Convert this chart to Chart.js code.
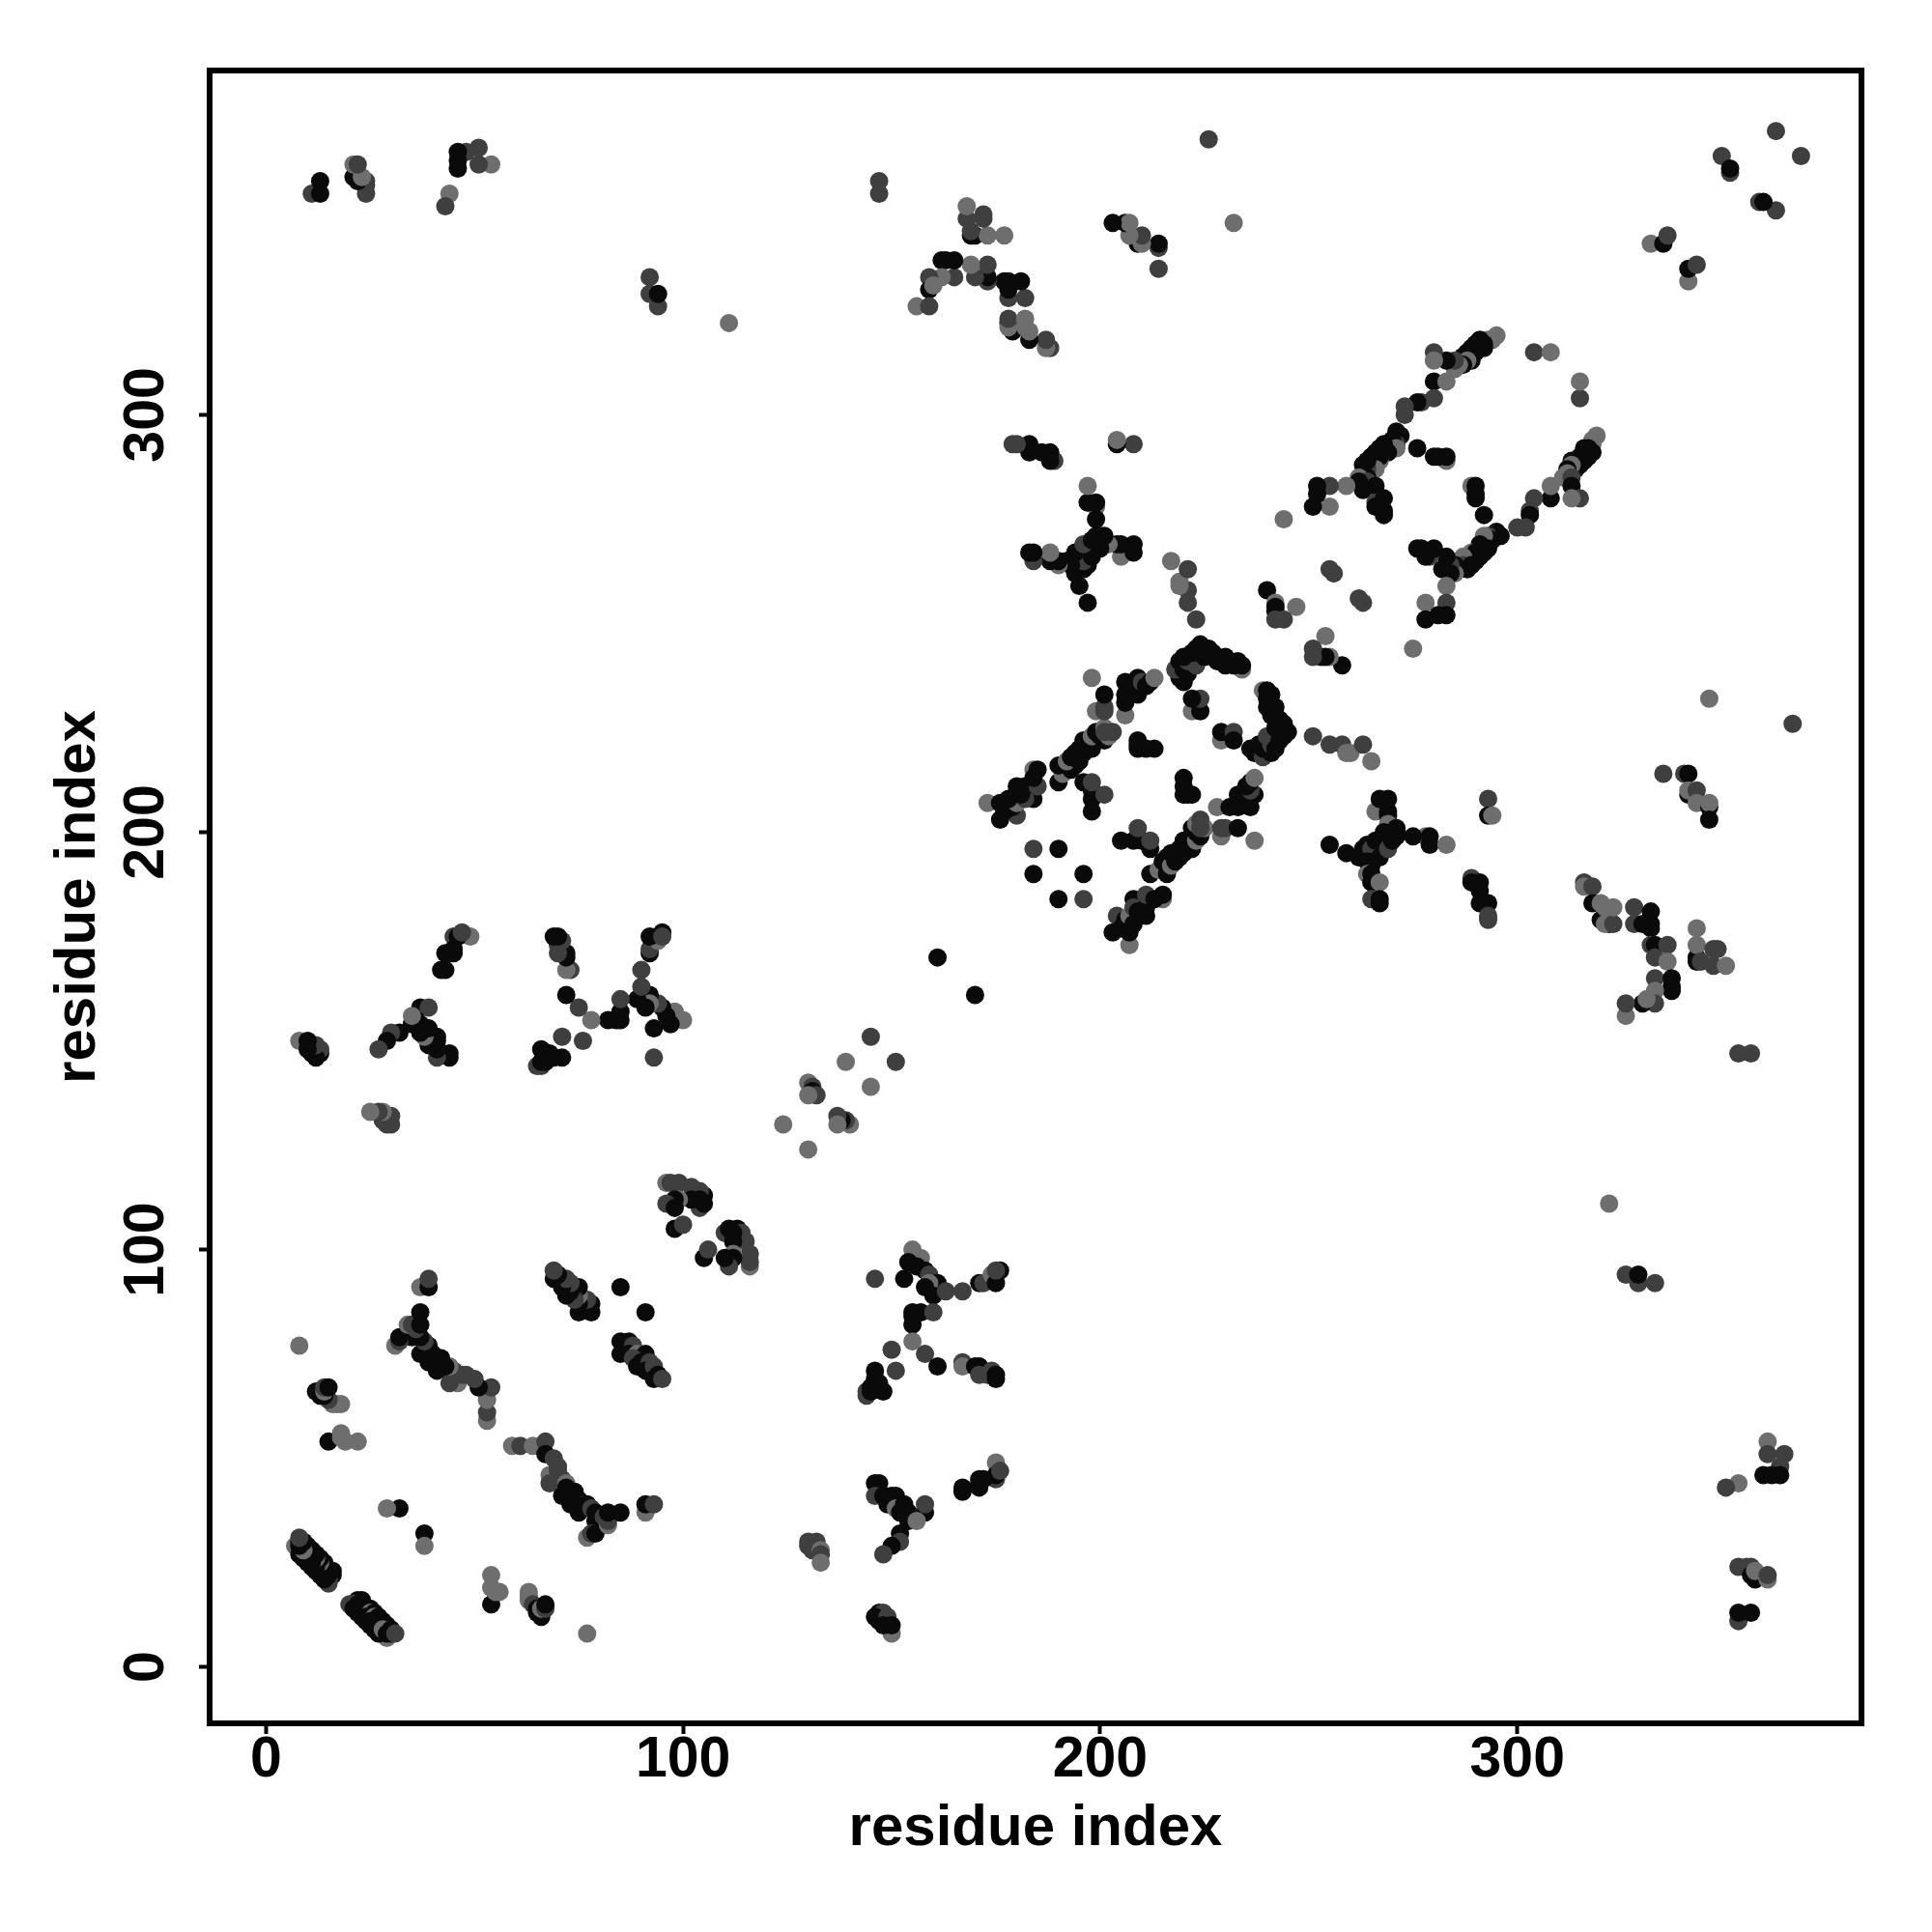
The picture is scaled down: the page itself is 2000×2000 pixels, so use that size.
<!DOCTYPE html>
<html><head><meta charset="utf-8">
<script src="https://cdn.jsdelivr.net/npm/chart.js@4"></script>
<style>html,body{margin:0;padding:0;background:#fff}canvas{display:block}</style>
</head><body><canvas id="c" width="2000" height="2000"></canvas>
<script>
// Contacts as [residue i, residue j, shade level]; the map is symmetric.
const shadeColours = ['#0a0a0a', '#3f3f3f', '#6e6e6e'];
const tickValues = [0, 100, 200, 300];
const axisTitle = 'residue index';
const nTerminalStrips = [[29,7,2],[22,13,0],[23,12,0],[24,11,0],[25,10,0],[26,9,0],[27,8,0],[22,16,0],[23,16,0],[21,15,2],[20,15,1],[22,15,0],[21,14,0],[24,14,0],[25,14,0],[23,13,0],[25,13,2],[26,13,0],[24,12,0],[26,12,2],[27,12,0],[25,11,0],[28,11,0],[28,10,0],[27,10,0],[26,10,0],[29,10,0],[27,9,0],[28,9,2],[30,9,0],[29,8,0],[30,8,0],[31,8,1],[77,8,2],[54,22,2],[54,15,0],[54,19,2],[55,18,2],[56,18,2],[38,32,0],[38,29,2],[63,18,2],[63,17,2],[63,16,2],[64,15,1],[65,14,0],[65,13,0],[66,12,0],[66,14,2],[67,14,1],[67,15,0]];
const clusterA = [[59,53,2],[61,53,1],[64,53,2],[67,54,1],[67,51,0],[69,50,1],[68,46,2],[68,44,1],[70,48,1],[70,47,1],[71,45,1],[72,44,2],[71,41,0],[72,43,0],[73,42,0],[74,42,0],[74,41,0],[73,39,0],[75,40,0],[77,39,0],[75,37,0],[76,38,0],[78,38,1],[77,31,2],[79,37,0],[79,35,0],[80,34,0],[78,32,1],[79,32,0],[81,36,1],[82,34,2],[82,35,1],[82,37,0],[85,37,0],[91,37,2],[91,39,0],[93,39,1]];
const clusterB = [[85,78,0],[87,78,0],[86,77,0],[85,75,0],[88,77,1],[87,75,0],[89,75,2],[91,75,0],[88,74,1],[90,73,0],[89,72,0],[92,73,1],[92,71,2],[91,71,0],[93,72,1],[94,70,0],[93,69,0],[95,69,1],[91,85,0]];
const clusterDiagonalA = [[116,96,2],[116,97,1],[116,99,1],[110,104,1],[113,105,0],[114,104,1],[115,102,1],[111,105,0],[112,104,0],[112,102,0],[112,99,2],[112,98,0],[111,96,1],[110,98,0],[105,98,0],[106,100,1]];
const cluster150 = [[155,100,2],[157,98,2],[154,97,0],[146,93,1],[153,93,0],[156,96,0],[158,95,0],[159,94,1],[161,92,0],[159,92,2],[158,91,0],[160,89,0],[163,90,1],[167,90,1],[171,92,0],[172,92,1],[174,93,1],[174,94,2],[175,92,0],[176,95,0],[175,95,1],[155,85,0],[155,84,0],[155,82,0],[157,85,0],[160,85,1],[155,78,2],[158,75,1],[161,72,0],[150,76,1],[151,71,1],[144,65,1],[144,66,1],[146,67,1],[146,71,0],[146,69,0],[147,68,0],[145,67,0],[145,66,0],[148,66,0],[167,73,1],[167,72,2],[170,72,0],[171,72,0],[171,70,1],[173,70,1],[174,71,1],[175,70,0],[175,69,0]];
const cluster150Low = [[175,49,2],[175,45,1],[175,46,0],[176,47,1],[171,45,0],[172,45,0],[171,43,0],[171,44,0],[167,43,0],[167,42,0],[146,44,0],[147,44,0],[146,41,1],[148,41,0],[150,41,0],[151,41,0],[149,39,0],[151,38,2],[153,39,0],[152,37,0],[154,37,0],[158,37,0],[158,39,1],[155,36,0],[154,35,0],[156,35,2],[152,32,0],[152,30,1],[150,29,0],[148,27,1],[130,30,1],[132,30,1],[130,29,1],[131,28,1],[133,28,2],[133,27,1],[133,25,2],[150,8,2],[147,13,0],[148,13,1],[146,12,0],[147,11,0],[149,12,1],[148,10,0],[150,10,0]];
const middleSparse = [[130,124,2],[140,130,2],[139,131,1],[138,131,0],[137,132,1],[137,130,2],[145,139,2],[151,145,1],[170,161,0]];
const squareLower = [[207,173,2],[207,176,0],[203,176,0],[204,180,1],[206,179,0],[205,177,0],[208,184,0],[207,180,2],[208,182,1],[209,181,0],[211,180,0],[211,182,0],[211,185,1],[215,184,2],[215,185,0],[213,184,0],[208,178,0],[212,190,0],[214,191,2],[215,192,2],[216,190,0],[215,193,0],[216,194,0],[217,192,2],[217,195,0],[218,193,0],[219,194,0],[219,196,0],[220,195,0],[221,197,0],[220,198,0],[222,196,0],[222,199,0],[223,198,2],[223,200,0],[224,199,0],[222,201,0],[225,201,2],[223,202,2],[224,201,1],[224,203,1],[190,184,0],[196,184,1],[196,190,0],[205,198,0],[208,198,0],[210,198,0],[209,201,1],[212,196,0],[212,198,1]];
const squareRight = [[229,199,2],[229,201,1],[230,201,1],[233,201,0],[228,206,2],[237,198,2],[231,206,0],[233,206,0],[236,206,0],[234,207,0],[235,208,0],[233,209,0],[237,209,0],[236,210,1],[235,211,0],[236,212,0],[237,213,2],[220,213,0],[220,211,0],[220,209,0],[221,209,0],[222,209,0],[229,222,2],[229,224,0],[232,224,1],[232,222,0],[236,220,0],[237,219,0],[238,221,0],[239,218,1],[239,220,0],[240,222,0],[241,219,0],[241,221,1],[240,223,1],[242,220,0],[243,222,0],[243,224,0],[244,223,0],[244,225,0],[245,224,0],[242,225,0],[239,234,2],[240,234,0],[241,233,0],[240,232,0],[240,230,0],[242,230,0],[241,228,0],[243,227,0],[244,226,0]];
const crossArm = [[251,223,1],[255,221,1],[258,221,1],[259,219,2],[260,219,2],[263,221,1],[265,217,2],[266,205,2],[267,208,0],[269,208,0],[269,205,0],[269,204,0],[269,202,2],[270,200,0],[271,199,0],[278,199,2],[275,199,0],[279,199,0],[279,197,0],[283,197,2],[255,197,0],[259,195,0],[262,194,0],[263,196,0],[264,195,0],[265,194,0],[266,195,0],[267,196,0],[268,197,0],[269,198,0],[263,194,0],[264,197,0],[265,196,1],[266,198,0],[267,194,0],[268,200,0],[269,196,1],[270,198,0],[271,201,0],[271,200,0],[264,193,0],[265,192,0],[264,190,2],[265,190,0],[265,188,0],[267,188,2],[265,184,1],[267,184,0],[267,183,0]];
const farBlockA = [[293,208,1],[293,204,0],[294,204,2],[289,189,1],[289,188,0],[291,188,0],[291,186,0],[291,183,0],[293,183,0],[293,180,1],[293,179,1],[316,188,1],[316,187,2],[318,187,1],[318,183,0],[320,183,2],[320,179,0],[322,178,0],[321,178,2],[323,178,1],[321,182,2],[323,182,2],[328,182,1],[332,181,0],[328,178,1],[330,178,0],[332,178,0],[332,177,0],[332,173,1],[333,173,0],[336,173,1],[333,170,1],[336,169,2],[333,165,1],[337,163,0],[337,162,0],[337,165,0],[333,162,2],[333,159,1],[330,159,0],[331,160,2],[326,156,2],[326,159,1],[343,170,0],[343,169,0],[343,177,2],[343,173,2],[347,172,1],[348,172,1],[344,169,1],[347,168,1],[350,168,2],[353,147,1],[356,147,1]];
const farBlockB = [[335,214,1],[340,214,1],[341,214,0],[341,209,0],[341,210,2],[343,210,1],[343,207,2],[346,206,0],[346,207,2],[346,203,0],[346,232,2],[366,226,1],[322,111,2],[326,94,1],[329,92,1],[329,94,0],[333,92,1],[360,54,2],[360,51,1],[364,51,1],[363,48,1],[359,46,0],[361,46,0],[363,46,0],[353,44,2],[350,43,1],[353,24,1],[355,24,1],[356,24,1],[357,21,0],[356,22,0],[357,23,2],[360,21,2],[360,22,1],[353,11,1],[353,13,0],[356,13,0],[368,362,1],[362,349,1],[358,351,1],[359,351,0],[341,332,2],[341,335,0],[343,336,1]];
const betaPairs = [[319,295,2],[318,294,2],[318,293,2],[318,291,0],[317,292,0],[316,292,0],[317,290,0],[315,290,0],[316,289,0],[315,288,0],[313,289,0],[314,287,0],[313,288,2],[312,287,0],[312,286,2],[311,285,2],[313,285,1],[313,283,0],[315,280,1],[313,280,2],[308,280,0],[308,283,2],[304,280,1],[303,277,1],[303,276,0],[302,273,1],[300,273,1],[315,304,1],[315,308,2],[296,271,0],[294,271,1],[295,272,0],[293,271,1],[294,270,0],[292,271,2],[293,268,0],[291,269,0],[292,267,0],[289,267,2],[290,267,0],[291,266,0],[290,265,0],[288,265,0],[288,263,0],[287,266,2],[287,264,1],[289,264,0],[286,263,0],[285,264,0],[285,262,2],[284,264,1],[283,266,0],[284,262,0],[282,263,0],[283,259,2],[283,255,1],[283,252,0],[278,255,2],[278,251,0],[281,252,0],[279,266,1],[280,268,0],[276,268,0],[277,268,0],[278,266,0]];
const upperPairs = [[289,283,2],[290,283,0],[290,281,0],[290,280,0],[292,276,0],[275,244,2],[263,255,1],[262,256,1],[258,240,0],[255,242,2],[253,242,0],[254,242,0],[254,247,2],[251,242,1],[251,244,1]];
const contacts = [...nTerminalStrips, ...clusterA, ...clusterB, ...clusterDiagonalA, ...cluster150, ...cluster150Low, ...middleSparse, ...squareLower, ...squareRight, ...crossArm, ...farBlockA, ...farBlockB, ...betaPairs, ...upperPairs];

const points = [], colours = [];
for (const [i, j, s] of contacts) {
  points.push({x: i, y: j}); colours.push(shadeColours[s]);
  points.push({x: j, y: i}); colours.push(shadeColours[s]);
}
const frame = {
  id: 'frame',
  afterDatasetsDraw(chart) {
    const {ctx, chartArea: a} = chart;
    ctx.save(); ctx.strokeStyle = '#000'; ctx.lineWidth = 6;
    ctx.strokeRect(a.left, a.top, a.right - a.left, a.bottom - a.top);
    ctx.restore();
  }
};
const tickFont = {family: '"Liberation Sans", Arial, sans-serif', weight: 'bold', size: 59};
const titleFont = {family: '"Liberation Sans", Arial, sans-serif', weight: 'bold', size: 60};
const axis = (size, extra) => ({
  type: 'linear', min: -13.5, max: 382.5,
  afterBuildTicks: s => { s.ticks = tickValues.map(v => ({value: v})); },
  grid: {drawOnChartArea: false, drawTicks: true, tickLength: 11, tickWidth: 4, tickColor: '#000'},
  border: {display: false},
  afterFit: s => { if (s.isHorizontal()) s.height = size; else s.width = size; },
  ...extra
});
new Chart(document.getElementById('c'), {
  type: 'scatter',
  data: {datasets: [{data: points, pointBackgroundColor: colours, pointBorderWidth: 0, pointRadius: 9.5, showLine: false}]},
  options: {
    responsive: false, animation: false, devicePixelRatio: 1,
    layout: {padding: {top: 73, right: 73, left: 0, bottom: 0}},
    plugins: {legend: {display: false}, tooltip: {enabled: false}},
    scales: {
      x: axis(216, {ticks: {color: '#000', font: tickFont, padding: -8, maxRotation: 0, autoSkip: false},
        title: {display: true, text: axisTitle, color: '#000', font: titleFont, padding: {top: 0, bottom: 71}}}),
      y: axis(217, {ticks: {color: '#000', font: tickFont, padding: 4, minRotation: 90, maxRotation: 90, crossAlign: 'center', autoSkip: false},
        title: {display: true, text: axisTitle, color: '#000', font: titleFont, padding: {top: 45, bottom: 0}}})
    }
  },
  plugins: [frame]
});
</script></body></html>
